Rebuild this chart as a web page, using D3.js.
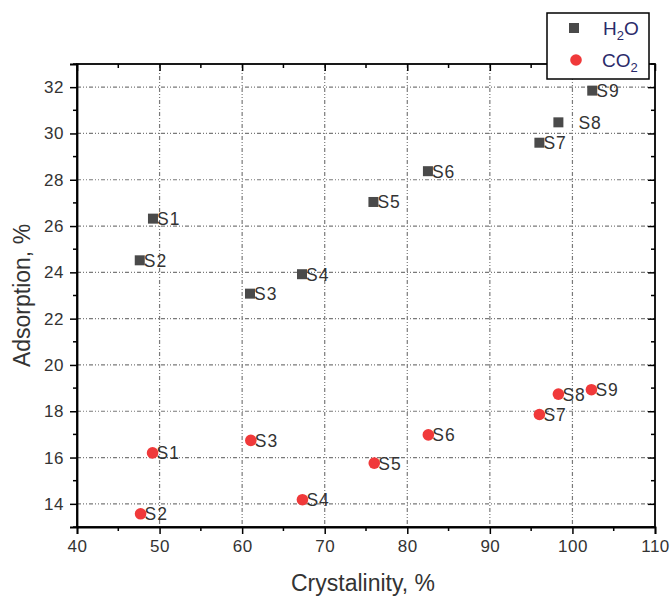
<!DOCTYPE html>
<html><head><meta charset="utf-8">
<script src="https://cdn.jsdelivr.net/npm/d3@7"></script>
<style>body{margin:0;background:#fff}svg{display:block}text{font-family:"Liberation Sans",Arial,sans-serif}</style>
</head><body><svg id="c" width="672" height="599"></svg>
<script>
const labels = ["S1","S2","S3","S4","S5","S6","S7","S8","S9"];
const h2oX = [49.2, 47.6, 60.95, 67.25, 75.9, 82.5, 96.0, 98.3, 102.4];
const h2oY = [26.32, 24.52, 23.08, 23.92, 27.04, 28.37, 29.6, 30.48, 31.85];
const co2X = [49.15, 47.7, 61.05, 67.3, 76.0, 82.55, 96.0, 98.3, 102.3];
const co2Y = [16.2, 13.57, 16.74, 14.18, 15.76, 16.98, 17.86, 18.74, 18.93];
const xTicks = [40,50,60,70,80,90,100,110];
const yTicks = [14,16,18,20,22,24,26,28,30,32];
const xMinor = d3.range(45,110,10);
const yMinor = d3.range(13,34,2);

const svg = d3.select("#c");
const L=77,R=655,T=64,B=527;
const x = d3.scaleLinear().domain([40,110]).range([L,R]);
const y = d3.scaleLinear().domain([13,33]).range([B,T]);

// grid
const dash = "4,2,1,2,1,2";
const g = svg.append("g");
g.selectAll(".gx").data(xTicks.filter(d=>d>40&&d<110)).join("line")
  .attr("x1",d=>x(d)).attr("x2",d=>x(d)).attr("y1",T).attr("y2",B)
  .attr("stroke","#7a7a7a").attr("stroke-width",1.2).attr("stroke-dasharray",dash);
g.selectAll(".gy").data(yTicks).join("line")
  .attr("y1",d=>y(d)).attr("y2",d=>y(d)).attr("x1",L).attr("x2",R)
  .attr("stroke","#7a7a7a").attr("stroke-width",1.2).attr("stroke-dasharray",dash);

// axes
const fs = "17px";
const axB = svg.append("g").attr("transform",`translate(0,${B})`)
  .call(d3.axisBottom(x).tickValues(xTicks).tickSize(7).tickPadding(6).tickFormat(d3.format("d")));
axB.append("g").selectAll("line").data(xMinor).join("line")
  .attr("x1",d=>x(d)).attr("x2",d=>x(d)).attr("y1",0).attr("y2",4).attr("stroke","#000").attr("stroke-width",1.5);
const axL = svg.append("g").attr("transform",`translate(${L},0)`)
  .call(d3.axisLeft(y).tickValues(yTicks).tickSize(7).tickPadding(6).tickFormat(d3.format("d")));
axL.append("g").selectAll("line").data(yMinor).join("line")
  .attr("y1",d=>y(d)).attr("y2",d=>y(d)).attr("x1",0).attr("x2",-4).attr("stroke","#000").attr("stroke-width",1.5);
const axT = svg.append("g").attr("transform",`translate(0,${T})`)
  .call(d3.axisBottom(x).tickValues(xTicks).tickSize(7).tickFormat(""));
axT.append("g").selectAll("line").data(xMinor).join("line")
  .attr("x1",d=>x(d)).attr("x2",d=>x(d)).attr("y1",0).attr("y2",4).attr("stroke","#000").attr("stroke-width",1.5);
const axR = svg.append("g").attr("transform",`translate(${R},0)`)
  .call(d3.axisLeft(y).tickValues(yTicks).tickSize(7).tickFormat(""));
axR.append("g").selectAll("line").data(yMinor).join("line")
  .attr("y1",d=>y(d)).attr("y2",d=>y(d)).attr("x1",0).attr("x2",-4).attr("stroke","#000").attr("stroke-width",1.5);
[axB,axL,axT,axR].forEach(a=>{
  a.select(".domain").attr("stroke","#000").attr("stroke-width",1.8);
  a.selectAll(".tick line").attr("stroke","#000").attr("stroke-width",1.5);
  a.selectAll(".tick text").attr("font-size",fs).attr("fill","#333").attr("letter-spacing","0.5px")
   .attr("font-family","'Liberation Sans',Arial,sans-serif");
});
axT.select(".domain").remove(); axR.select(".domain").remove();
svg.append("rect").attr("x",L).attr("y",T).attr("width",R-L).attr("height",B-T)
  .attr("fill","none").attr("stroke","#000").attr("stroke-width",1.8);

// points
const h2o = labels.map((l,i)=>({l,x:h2oX[i],y:h2oY[i]}));
const co2 = labels.map((l,i)=>({l,x:co2X[i],y:co2Y[i]}));
const sq = 10;
svg.append("g").selectAll("rect").data(h2o).join("rect")
  .attr("x",d=>x(d.x)-sq/2).attr("y",d=>y(d.y)-sq/2).attr("width",sq).attr("height",sq).attr("fill","#4a4a4a");
svg.append("g").selectAll("circle").data(co2).join("circle")
  .attr("cx",d=>x(d.x)).attr("cy",d=>y(d.y)).attr("r",5.8).attr("fill","#f0393a");

function addLabels(data){
  svg.append("g").selectAll("text").data(data).join("text")
    .attr("x",d=>x(d.x)+(d===h2o[7]?20:4)).attr("y",d=>y(d.y)+6.5)
    .attr("font-size","17.5px").attr("fill","#333").attr("letter-spacing","1px").text(d=>d.l);
}
addLabels(h2o); addLabels(co2);

// axis titles
svg.append("text").attr("x",(L+R)/2-3).attr("y",591).attr("text-anchor","middle")
  .attr("font-size","23px").attr("fill","#333").text("Crystalinity, %");
svg.append("text").attr("transform",`translate(30,${(T+B)/2}) rotate(-90)`).attr("text-anchor","middle")
  .attr("font-size","23px").attr("fill","#333").text("Adsorption, %");

// legend
const lg = svg.append("g");
lg.append("rect").attr("x",547).attr("y",13).attr("width",102).attr("height",66)
  .attr("fill","#fff").attr("stroke","#000").attr("stroke-width",1.5);
lg.append("rect").attr("x",569).attr("y",23).attr("width",sq).attr("height",sq).attr("fill","#4a4a4a");
lg.append("circle").attr("cx",576).attr("cy",60).attr("r",5.8).attr("fill","#f0393a");
const t1 = lg.append("text").attr("x",603).attr("y",35).attr("font-size","19px").attr("fill","#2a2a6a");
t1.append("tspan").text("H");
t1.append("tspan").attr("font-size","13px").attr("dy",5).text("2");
t1.append("tspan").attr("dy",-5).text("O");
const t2 = lg.append("text").attr("x",602).attr("y",67).attr("font-size","19px").attr("fill","#2a2a6a");
t2.append("tspan").text("CO");
t2.append("tspan").attr("font-size","13px").attr("dy",5).text("2");
</script></body></html>
